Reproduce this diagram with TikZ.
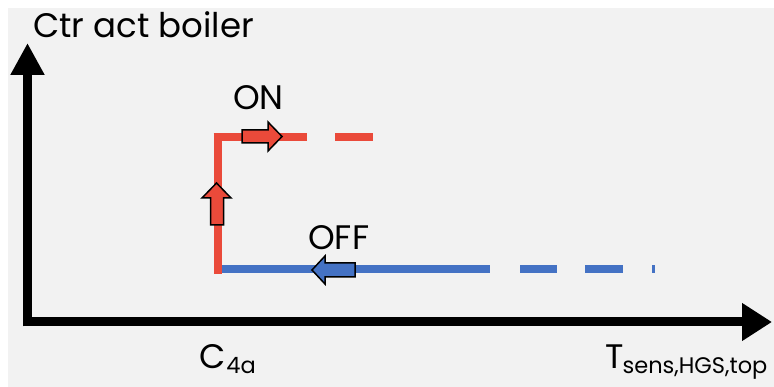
\documentclass[tikz,border=0pt]{standalone}
\usepackage{fontspec}
\setmainfont{Poppins}
\usetikzlibrary{arrows.meta}
\definecolor{bggray}{HTML}{F2F2F2}
\definecolor{onred}{HTML}{EA4A3A}
\definecolor{offblue}{HTML}{4472C4}
\newcommand{\lowsub}[1]{\raisebox{-5pt}{\fontsize{22.5}{22.5}\selectfont #1}}
\tikzset{
  axisline/.style={line width=9pt},
  redline/.style={line width=8pt, draw=onred},
  blueline/.style={line width=8pt, draw=offblue},
  blockarrow/.style={draw=black, line width=1.5pt, line join=miter},
  lbl/.style={inner sep=0pt, anchor=base west, font=\fontsize{34}{34}\selectfont},
}
\begin{document}
\begin{tikzpicture}[x=1pt,y=-1pt]
\useasboundingbox (0,0) rectangle (774,387);
\fill[bggray] (8,8) rectangle (774,387);
% axes
\coordinate (O) at (27.5,322);
\coordinate (ytop) at (27.5,43);
\coordinate (xend) at (772,322);
\coordinate (ycorner) at (27.5,326.5);
\coordinate (xcorner) at (23,322);
\draw[axisline, -{Triangle[length=32pt,width=32pt]}] (ycorner) -- (ytop);
\draw[axisline, -{Triangle[length=30pt,width=36pt]}] (xcorner) -- (xend);
% blue OFF line
\coordinate (b0) at (222,269.5);
\coordinate (b1) at (490,269.5);
\coordinate (b2) at (520,269.5);
\coordinate (b3) at (557,269.5);
\coordinate (b4) at (585,269.5);
\coordinate (b5) at (623,269.5);
\coordinate (b6) at (652,269.5);
\coordinate (b7) at (655,269.5);
\draw[blueline] (b0) -- (b1) (b2) -- (b3) (b4) -- (b5) (b6) -- (b7);
% red ON line
\coordinate (r0) at (217.5,274);
\coordinate (r1) at (217.5,133);
\coordinate (r2) at (213.5,137);
\coordinate (r3) at (307,137);
\coordinate (r4) at (335,137);
\coordinate (r5) at (373,137);
\draw[redline] (r0) -- (r1) (r2) -- (r3) (r4) -- (r5);
% block arrows
\filldraw[blockarrow, fill=onred] (242,130) -- (268,130) -- (268,122) -- (282,136.5) -- (268,151) -- (268,143) -- (242,143) -- cycle;
\filldraw[blockarrow, fill=onred] (210.5,225) -- (210.5,198) -- (202,198) -- (216.5,183) -- (231,198) -- (223.5,198) -- (223.5,225) -- cycle;
\filldraw[blockarrow, fill=offblue] (355,263) -- (325,263) -- (325,256) -- (312,270) -- (325,284) -- (325,277) -- (355,277) -- cycle;
% labels
\node[lbl] (ylab) at (33,38) {Ctr act boiler};
\node[lbl] (onlab) at (233,110) {ON};
\node[lbl] (offlab) at (308,250) {OFF};
\node[lbl] (c4a) at (199,369) {C\kern1pt\lowsub{4a}};
\node[lbl] (tlab) at (605,369) {T\kern-1pt\lowsub{sens,HGS,top}};
\end{tikzpicture}
\end{document}
